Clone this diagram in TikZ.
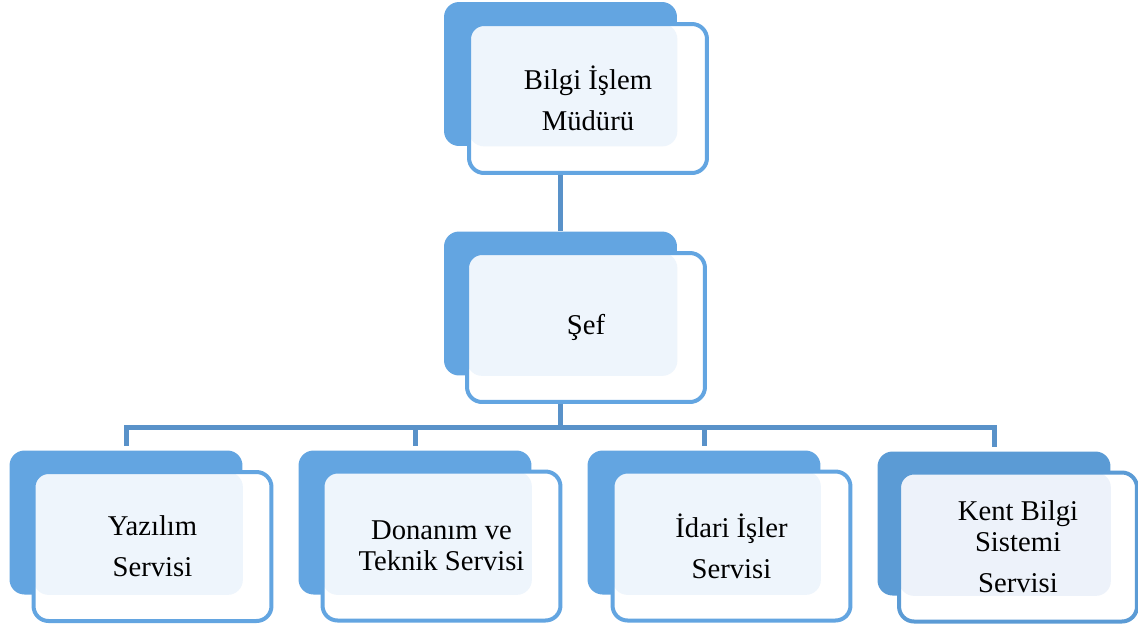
\documentclass[tikz,border=0pt]{standalone}
\usepackage{fontspec}
\setmainfont{Liberation Serif}
\definecolor{boxblue}{RGB}{99,165,225}
\definecolor{darkblue}{RGB}{91,155,213}
\definecolor{linkblue}{RGB}{89,146,201}
\definecolor{tintblue}{RGB}{238,245,252}
\definecolor{tintgrey}{RGB}{237,242,250}
\begin{document}
\begin{tikzpicture}[x=0.02cm, y=-0.02cm,
  back/.style={fill=#1, rounded corners=0.3cm, inner sep=0pt,
               minimum width=4.66cm, minimum height=2.88cm},
  tint/.style={fill=tintblue},
  front/.style={draw=boxblue, line width=0.08cm, fill=white,
                rounded corners=0.3cm, inner sep=0pt, align=center,
                minimum width=4.76cm, minimum height=2.98cm,
                font=\fontsize{16.3pt}{23.4pt}\selectfont,
                path picture={\fill[tint, rounded corners=0.3cm]
                  (path picture bounding box.north west) rectangle (#1.south east);}},
  conn/.style={draw=linkblue, line width=0.1cm}
]
  \useasboundingbox (0,0) rectangle (1138,630);

  % back boxes
  \node[back=boxblue] (mudb) at (560.5,74) {};
  \node[back=boxblue] (sefb) at (560.5,303.5) {};
  \node[back=boxblue] (yazb) at (126,522.5) {};
  \node[back=boxblue] (donb) at (415,522.5) {};
  \node[back=boxblue] (idab) at (704,522.5) {};
  \node[back=darkblue] (kenb) at (994,523.5) {};

  % connectors
  \coordinate (bus) at (560.5,427);
  \draw[conn] (mudb.south) -- (sefb.north);
  \draw[conn] (sefb.south) -- (bus);
  \foreach \n in {yazb,donb,idab,kenb}
    \draw[conn, shorten >=0.08cm] (bus) -| (\n.north);

  % front boxes
  \node[front=mudb] (mud) at (588,98.5) {Bilgi İşlem\\Müdürü};
  \node[front=sefb] (sef) at (586,327.5) {Şef};
  \node[front=yazb] (yaz) at (152.5,546.5) {Yazılım\\Servisi};
  \node[front=donb] (don) at (441.5,546) {Donanım ve\\[-5.8pt]Teknik Servisi};
  \node[front=idab] (ida) at (731.5,546) {İdari İşler\\Servisi};
  \node[front=kenb, draw=darkblue, tint/.style={fill=tintgrey}] (ken) at (1018,547)
        {Kent Bilgi\\[-5.8pt]Sistemi\\Servisi};
\end{tikzpicture}
\end{document}
